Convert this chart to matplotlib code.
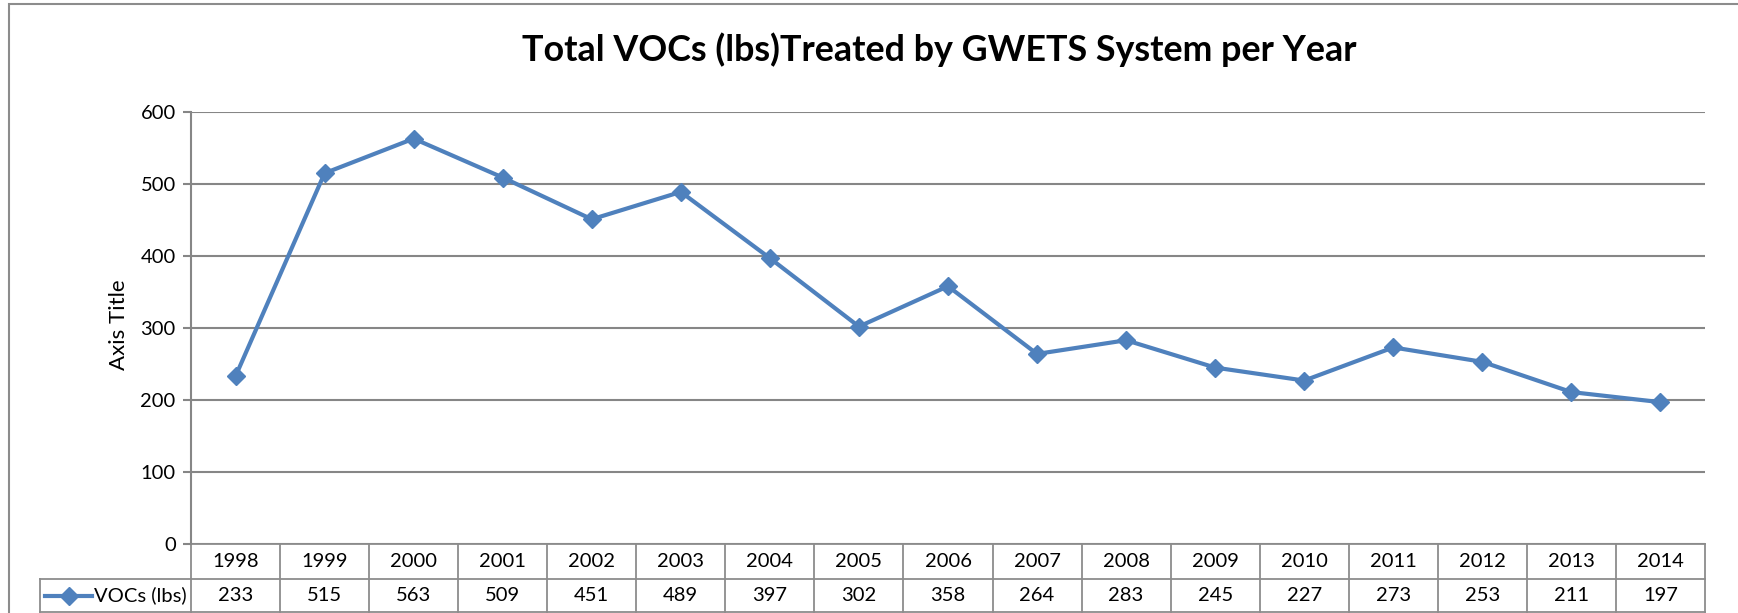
import matplotlib
matplotlib.use("Agg")
import matplotlib.pyplot as plt
from matplotlib.lines import Line2D
from matplotlib.patches import Rectangle
import matplotlib.transforms as mtransforms

# ---- data ----
years = ["1998", "1999", "2000", "2001", "2002", "2003", "2004", "2005", "2006",
         "2007", "2008", "2009", "2010", "2011", "2012", "2013", "2014"]
vocs = [233, 515, 563, 509, 451, 489, 397, 302, 358, 264, 283, 245, 227, 273, 253, 211, 197]
series_name = "VOCs (lbs)"
title = "Total VOCs (lbs)Treated by GWETS System per Year"
y_label = "Axis Title"
y_ticks = [0, 100, 200, 300, 400, 500, 600]

W, H = 1738, 613
DPI = 100
plt.rcParams['font.family'] = ['Lato', 'DejaVu Sans']

fig = plt.figure(figsize=(W / DPI, H / DPI), dpi=DPI)
fig.patch.set_facecolor("white")

def fx(px):
    return px / W

def fy(py):
    return 1 - py / H

# outer chart frame
fig.patches.append(Rectangle((fx(9), fy(700)), 1.2, fy(4) - fy(700), transform=fig.transFigure,
                             fill=False, edgecolor="#8c8c8c", linewidth=1.5))

FS = 14.5
L, R, T, B = 191, 1705, 112, 544
ax = fig.add_axes([fx(L), fy(B), fx(R - L), (B - T) / H])
ax.set_xlim(-0.5, len(years) - 0.5)
ax.set_ylim(0, 600)
ax.set_yticks(y_ticks)
ax.set_yticklabels([str(v) for v in y_ticks], fontsize=FS)
ax.set_xticks([])
for s in ["top", "right", "bottom"]:
    ax.spines[s].set_visible(False)
ax.spines["left"].set_color("#868686")
ax.spines["left"].set_linewidth(1.5)
ax.tick_params(axis="y", length=6, width=1.5, color="#868686", pad=5)
ax.grid(axis="y", color="#868686", linewidth=1.5)
ax.set_axisbelow(True)

color = "#4F81BD"
x = list(range(len(years)))
ax.plot(x, vocs, color=color, linewidth=3, marker="D", markersize=9.5,
        markeredgecolor=color, markerfacecolor=color, clip_on=False, zorder=3)

fig.text(fx(119), fy(325), y_label, rotation=90, ha="center", va="center", fontsize=16)

fig.text(fx(939), fy(50), title, ha="center", va="center", fontsize=25.8, fontweight="bold")

# ---- data table ----
trans = mtransforms.blended_transform_factory(ax.transData, ax.transAxes)
h_ax = B - T
r1 = -35 / h_ax
r2 = -68 / h_ax
gc = "#8c8c8c"
lw = 1.3
n = len(years)
ax.add_line(Line2D([-0.5, n - 0.5], [0, 0], transform=trans, color=gc, lw=lw, clip_on=False))
ax.add_line(Line2D([-0.5, n - 0.5], [r1, r1], transform=trans, color=gc, lw=lw, clip_on=False))
ax.add_line(Line2D([-0.5, n - 0.5], [r2, r2], transform=trans, color=gc, lw=lw, clip_on=False))
for i in range(n + 1):
    ax.add_line(Line2D([i - 0.5, i - 0.5], [0, r2], transform=trans, color=gc, lw=lw, clip_on=False))
for i, (yr, v) in enumerate(zip(years, vocs)):
    ax.text(i, r1 / 2, yr, transform=trans, ha="center", va="center", fontsize=FS)
    ax.text(i, (r1 + r2) / 2, str(v), transform=trans, ha="center", va="center", fontsize=FS)

# legend cell
ftrans = fig.transFigure
fig.add_artist(Line2D([fx(40), fx(L)], [fy(579), fy(579)], transform=ftrans, color=gc, lw=lw))
fig.add_artist(Line2D([fx(40), fx(L)], [fy(612), fy(612)], transform=ftrans, color=gc, lw=lw))
fig.add_artist(Line2D([fx(40), fx(40)], [fy(579), fy(612)], transform=ftrans, color=gc, lw=lw))
fig.add_artist(Line2D([fx(45), fx(92)], [fy(595.5), fy(595.5)], transform=ftrans, color=color, lw=3))
fig.add_artist(Line2D([fx(68.5)], [fy(595.5)], transform=ftrans, color=color, marker="D", markersize=9.5))
fig.text(fx(94), fy(595.5), series_name, ha="left", va="center", fontsize=FS)

fig.savefig("out.png", dpi=DPI, facecolor="white")
